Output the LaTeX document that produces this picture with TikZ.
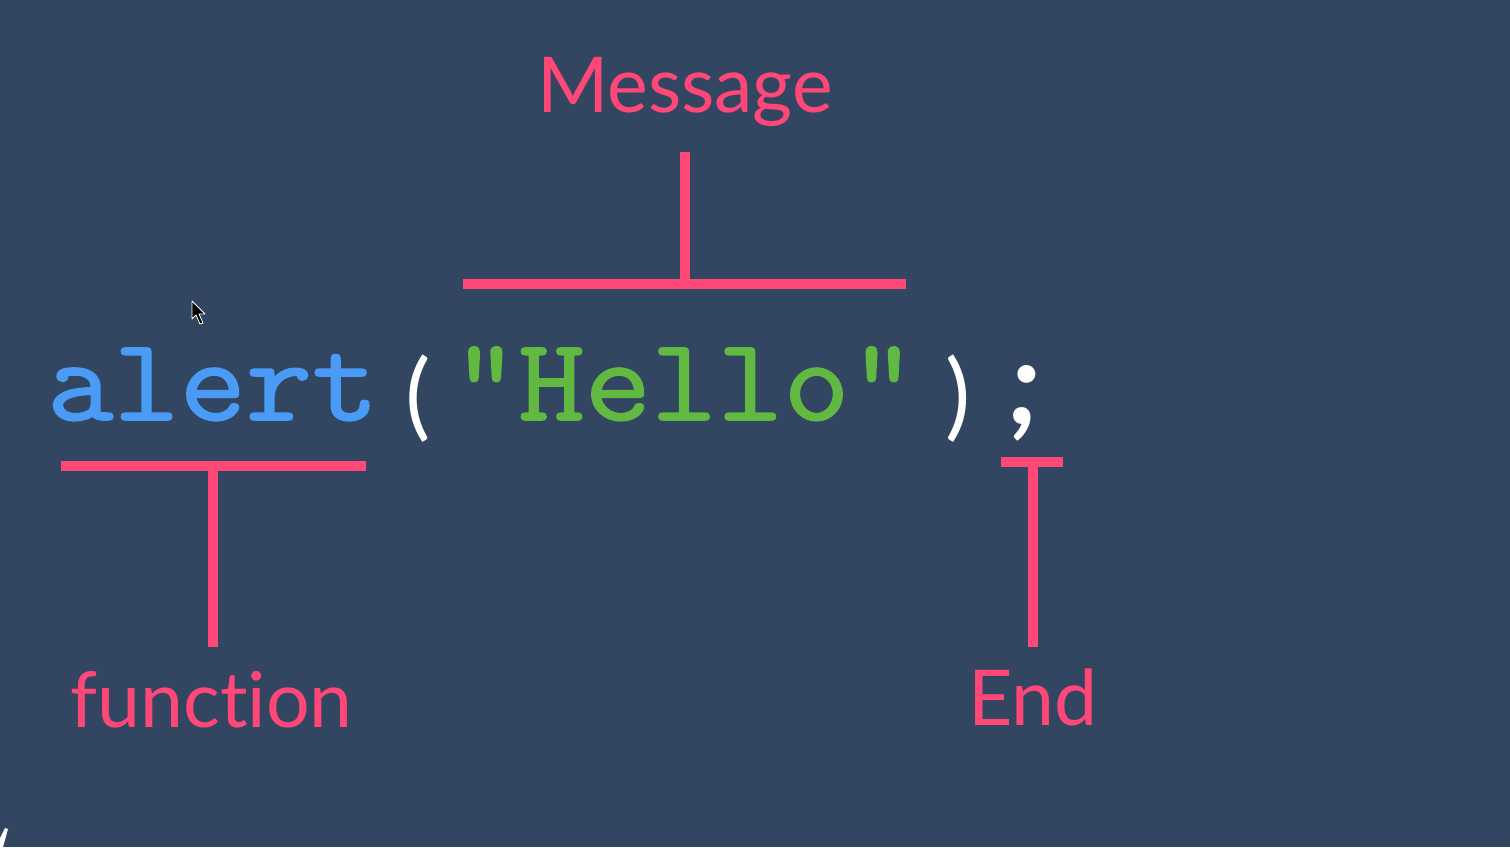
\documentclass[tikz,border=0pt]{standalone}
\usepackage{fontspec}
\setmainfont{Lato}[Ligatures=NoCommon]
\newfontfamily\codefont{Latin Modern Mono}[FakeBold=1.5,FakeStretch=1.09]
\usetikzlibrary{positioning}
\definecolor{bg}{RGB}{50,70,98}
\definecolor{pink}{RGB}{255,71,120}
\definecolor{codeblue}{RGB}{74,155,245}
\definecolor{codegreen}{RGB}{98,185,65}
\tikzset{
  bar/.style={draw=pink,line width=10pt},
  tag/.style={text=pink,inner sep=0pt,anchor=base,font=\fontsize{77}{77}\selectfont},
  code/.style={inner sep=0pt,anchor=base west,font=\codefont\fontsize{118}{118}\selectfont},
  punct/.style={text=white,inner sep=0pt,anchor=base,font=\fontsize{95}{95}\selectfont},
}

\begin{document}
\begin{tikzpicture}[x=1pt,y=-1pt]
    \fill[bg] (0,0) rectangle (1510,847);
    \useasboundingbox (0,0) rectangle (1510,847);
    % code line
    \node[code,text=codeblue] (fn) at (47,420) {alert};
    \node[punct] (open) at (418,428) {(};
    \node[code,text=codegreen] (msgtext) at (452,420) {"Hello"};
    \node[punct] (close) at (958,428) {)};
    \node[punct,font=\bfseries\itshape\fontsize{118}{118}\selectfont] (semi) at (1025.75,424) {;};
    % labels
    \node[tag] (msg) at (685,112) {Message};
    \node[tag] (fnlabel) at (211.5,727) {function};
    \node[tag] (endlabel) at (1033,725) {End};
    % brackets
    \coordinate (msgL) at (463,284);
    \coordinate (msgR) at (906,284);
    \coordinate (msgT) at (684.5,152);
    \draw[bar] (msgL) -- (msgR);
    \draw[bar] (msgT) -- (msgT |- msgL);
    \coordinate (fnL) at (61,466);
    \coordinate (fnR) at (366,466);
    \coordinate (fnB) at (213,647);
    \draw[bar] (fnL) -- (fnR);
    \draw[bar] (fnB) -- (fnB |- fnL);
    \coordinate (endL) at (1001,462);
    \coordinate (endR) at (1063,462);
    \coordinate (endB) at (1033,647);
    \draw[bar] (endL) -- (endR);
    \draw[bar] (endB) -- (endB |- endL);
    % pointer and stray mark
    \draw[white,fill=black,line width=0.8pt,line join=round]
      (192,301) -- (192,319) -- (196,315) -- (200,324) -- (203,323) -- (199,314) -- (205,314) -- cycle;
    \fill[white] (0,847) -- (3,847) -- (8,829) -- (5,828) -- (0,838) -- cycle;
\end{tikzpicture}
\end{document}
